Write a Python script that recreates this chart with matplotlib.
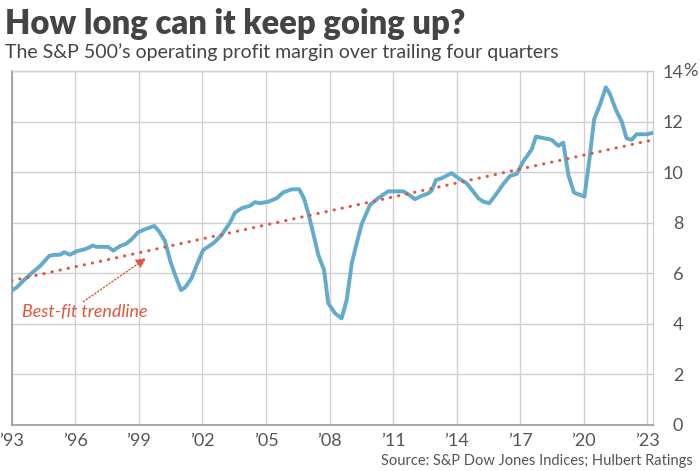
import matplotlib
matplotlib.use("Agg")
import matplotlib.pyplot as plt

# ---- data ----
years = [1993.00, 1993.24, 1993.55, 1993.94, 1994.34, 1994.77, 1994.96, 1995.28, 1995.48, 1995.75,
         1996.07, 1996.46, 1996.61, 1996.82, 1997.01, 1997.56, 1997.79, 1998.11, 1998.39, 1998.66,
         1998.97, 1999.29, 1999.73, 1999.97, 2000.23, 2000.47, 2000.71, 2000.99, 2001.18, 2001.49,
         2001.73, 2002.04, 2002.51, 2002.91, 2003.30, 2003.54, 2003.85, 2004.25, 2004.48, 2004.72,
         2005.11, 2005.51, 2005.82, 2006.21, 2006.57, 2006.79, 2007.00, 2007.23, 2007.47, 2007.74,
         2007.94, 2008.26, 2008.57, 2008.81, 2009.05, 2009.28, 2009.52, 2009.91, 2010.30, 2010.77,
         2011.48, 2011.72, 2012.03, 2012.35, 2012.66, 2012.82, 2013.02, 2013.29, 2013.76, 2014.08,
         2014.47, 2014.78, 2015.02, 2015.26, 2015.54, 2015.89, 2016.20, 2016.52, 2016.83, 2017.14,
         2017.54, 2017.74, 2018.09, 2018.48, 2018.80, 2019.03, 2019.27, 2019.54, 2020.03, 2020.26,
         2020.49, 2020.76, 2021.04, 2021.23, 2021.52, 2021.79, 2022.02, 2022.26, 2022.49, 2022.97,
         2023.28]
margins = [5.31, 5.44, 5.70, 6.00, 6.28, 6.68, 6.72, 6.73, 6.83, 6.73,
           6.87, 6.95, 7.00, 7.09, 7.04, 7.04, 6.89, 7.07, 7.16, 7.34,
           7.62, 7.74, 7.87, 7.64, 7.28, 6.52, 5.93, 5.33, 5.43, 5.80,
           6.32, 6.92, 7.18, 7.51, 8.00, 8.40, 8.57, 8.67, 8.81, 8.77,
           8.83, 8.97, 9.20, 9.32, 9.32, 8.97, 8.37, 7.58, 6.72, 6.13,
           4.81, 4.41, 4.21, 4.94, 6.39, 7.18, 7.95, 8.70, 8.97, 9.24,
           9.24, 9.12, 8.93, 9.06, 9.16, 9.27, 9.69, 9.76, 9.96, 9.76,
           9.56, 9.23, 8.97, 8.83, 8.77, 9.16, 9.53, 9.85, 9.93, 10.42,
           10.90, 11.41, 11.35, 11.28, 11.04, 11.17, 9.89, 9.19, 9.03, 10.48,
           12.10, 12.66, 13.36, 13.10, 12.46, 12.00, 11.34, 11.28, 11.50, 11.50,
           11.56]
trend_years = [1993.0, 2023.28]
trend_values = [5.70, 11.28]

xtick_years = [1993, 1996, 1999, 2002, 2005, 2008, 2011, 2014, 2017, 2020, 2023]
xtick_labels = ["\u201993", "\u201996", "\u201999", "\u201902", "\u201905", "\u201908",
                "\u201911", "\u201914", "\u201917", "\u201920", "\u201923"]
ytick_values = [0, 2, 4, 6, 8, 10, 12, 14]
ytick_labels = ["0", "2", "4", "6", "8", "10", "12", "14"]

title = "How long can it keep going up?"
subtitle = "The S&P 500\u2019s operating profit margin over trailing four quarters"
source = "Source: S&P Dow Jones Indices; Hulbert Ratings"
annotation = "Best-fit trendline"

# ---- style ----
plt.rcParams['font.family'] = ['Lato', 'DejaVu Sans']
line_color = "#62abca"
red = "#e0553f"
text_gray = "#555555"
grid_gray = "#cfcfcf"

fig = plt.figure(figsize=(7.0, 4.71), dpi=100)
ax = fig.add_axes([0.0167, 0.0983, 0.9166, 0.7507])

ax.plot(years, margins, color=line_color, lw=2.8, solid_joinstyle='round', zorder=3)
ax.plot(trend_years, trend_values, color=red, lw=2.2, linestyle=(0, (0.1, 2.6)),
        dash_capstyle='round', zorder=4)

ax.set_xlim(1993.0, 2023.28)
ax.set_ylim(0, 14)
ax.set_xticks(xtick_years)
ax.set_xticklabels(xtick_labels)
ax.set_yticks(ytick_values)
ax.set_yticklabels(ytick_labels)
ax.yaxis.tick_right()
ax.tick_params(axis='both', length=0, labelsize=13, colors=text_gray)
ax.tick_params(axis='y', pad=21.5)
for lab in ax.get_yticklabels():
    lab.set_horizontalalignment('right')
ax.tick_params(axis='x', pad=6)

ax.grid(True, color=grid_gray, lw=1.0, zorder=0)
ax.set_axisbelow(True)
for side in ['left', 'bottom']:
    ax.spines[side].set_color("#999999")
    ax.spines[side].set_linewidth(1.2)
for side in ['top', 'right']:
    ax.spines[side].set_color(grid_gray)
    ax.spines[side].set_linewidth(1.0)

# percent sign after the top label
ax.annotate("%", xy=(1, 14), xycoords=('axes fraction', 'data'),
            xytext=(21.5, 0), textcoords='offset points', ha='left', va='center',
            fontsize=13, color=text_gray)

# annotation
ax.text(1993.5, 4.45, annotation, fontsize=12.9, style='italic', color=red,
        ha='left', va='center')
ax.annotate("", xy=(1999.35, 6.6), xytext=(1996.38, 4.87),
            arrowprops=dict(arrowstyle='-|>,head_length=0.6,head_width=0.3', color=red,
                            lw=1.0, linestyle=(0, (1, 1.5)), shrinkA=0, shrinkB=0))

fig.text(0.007, 0.950, title, fontsize=23.6, fontweight='heavy', color="#444444",
         ha='left', va='center')
fig.text(0.007, 0.889, subtitle, fontsize=14, color="#444444", ha='left', va='center')
fig.text(0.99, 0.022, source, fontsize=10.5, color=text_gray, ha='right', va='center')

fig.savefig("out.png", dpi=100)
